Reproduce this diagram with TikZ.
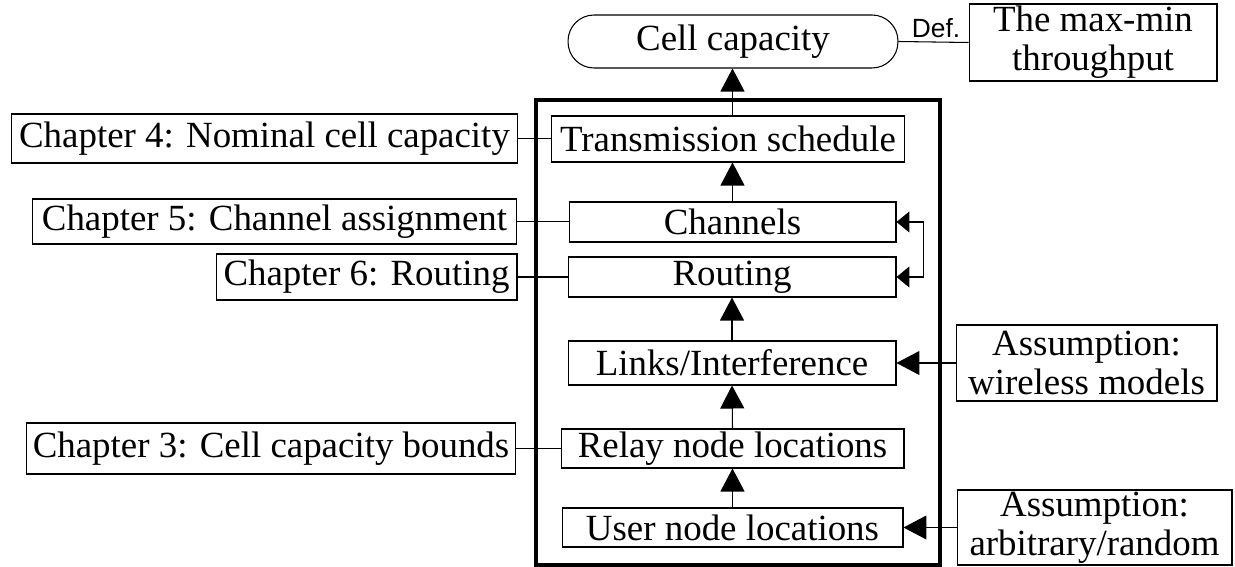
\documentclass[tikz,border=0pt]{standalone}
\usepackage{fontspec}
\setmainfont{Liberation Serif}
\newfontfamily\defsans{Liberation Sans}
\usetikzlibrary{arrows.meta,positioning,calc}

\begin{document}
\begin{tikzpicture}[x=0.02cm, y=-0.02cm,
	every node/.style={font=\fontsize{21}{22}\selectfont},
	blk/.style={draw, line width=0.6pt, inner sep=0pt, align=center},
	lnk/.style={line width=0.6pt},
	arr/.style={line width=0.6pt, -{Triangle[length=0.46cm,width=0.48cm]}},
	dbl/.style={line width=0.6pt, {Triangle[length=0.26cm,width=0.42cm]}-{Triangle[length=0.26cm,width=0.42cm]}}]
	\useasboundingbox (0,0) rectangle (1235,567);
	
	% Thick frame
	\draw[line width=1.8pt] (536,100) rectangle (940,565);
	
	% Cell capacity and definition
	\node[blk, rounded corners=0.52cm, minimum width=6.6cm, minimum height=1.06cm] (cap) at (733,41.5) {Cell capacity};
	\node[blk, minimum width=4.96cm, minimum height=1.54cm] (maxmin) at (1093,42.5) {The max-min\\throughput};
	\node[font=\defsans\fontsize{15}{17}\selectfont] (def) at (936,28) {Def.};
	\draw[lnk] (cap.east) -- (maxmin.west);
	
	% Inner steps
	\node[blk, minimum width=7.08cm, minimum height=0.92cm] (sched) at (728,139) {Transmission schedule};
	\node[blk, minimum width=6.54cm, minimum height=0.80cm] (chan) at (732.5,222) {Channels};
	\node[blk, minimum width=6.56cm, minimum height=0.80cm] (rout) at (732,277) {Routing};
	\node[blk, minimum width=6.56cm, minimum height=0.88cm] (links) at (732,363) {Links/Interference};
	\node[blk, minimum width=6.86cm, minimum height=0.78cm] (relay) at (732.5,448.5) {Relay node locations};
	\node[blk, minimum width=6.82cm, minimum height=0.78cm] (user) at (732.5,527.5) {User node locations};
	
	\draw[arr] (user.north) -- (relay.south);
	\draw[arr] (relay.north) -- (links.south);
	\draw[arr] (links.north) -- (rout.south);
	\draw[arr] (chan.north) -- (chan.north |- sched.south);
	\draw[arr] (sched.north -| chan.north) -- (cap.south -| chan.north);
	\draw[dbl] (chan.east) -- ++(27,0) |- (rout.east);
	
	% Chapters
	\node[blk, minimum width=10.14cm, minimum height=0.98cm] (ch4) at (264.5,138.5) {Chapter 4: Nominal cell capacity};
	\node[blk, minimum width=9.70cm, minimum height=0.90cm] (ch5) at (274.5,221.5) {Chapter 5: Channel assignment};
	\node[blk, minimum width=6.02cm, minimum height=0.92cm] (ch6) at (366.5,277) {Chapter 6: Routing};
	\node[blk, minimum width=9.80cm, minimum height=1.02cm] (ch3) at (271,448.5) {Chapter 3: Cell capacity bounds};
	
	\draw[lnk] (ch4.east) -- (sched.west |- ch4.east);
	\draw[lnk] (ch5.east) -- (chan.west |- ch5.east);
	\draw[lnk] (ch6.east) -- (rout.west |- ch6.east);
	\draw[lnk] (ch3.east) -- (relay.west |- ch3.east);
	
	% Assumptions
	\node[blk, minimum width=5.22cm, minimum height=1.52cm] (wire) at (1086.5,363) {Assumption:\\wireless models};
	\node[blk, minimum width=5.50cm, minimum height=1.50cm] (arb) at (1094.5,527.5) {Assumption:\\arbitrary/random};
	
	\draw[arr] (wire.west) -- (links.east);
	\draw[arr] (arb.west) -- (user.east);
\end{tikzpicture}
\end{document}
